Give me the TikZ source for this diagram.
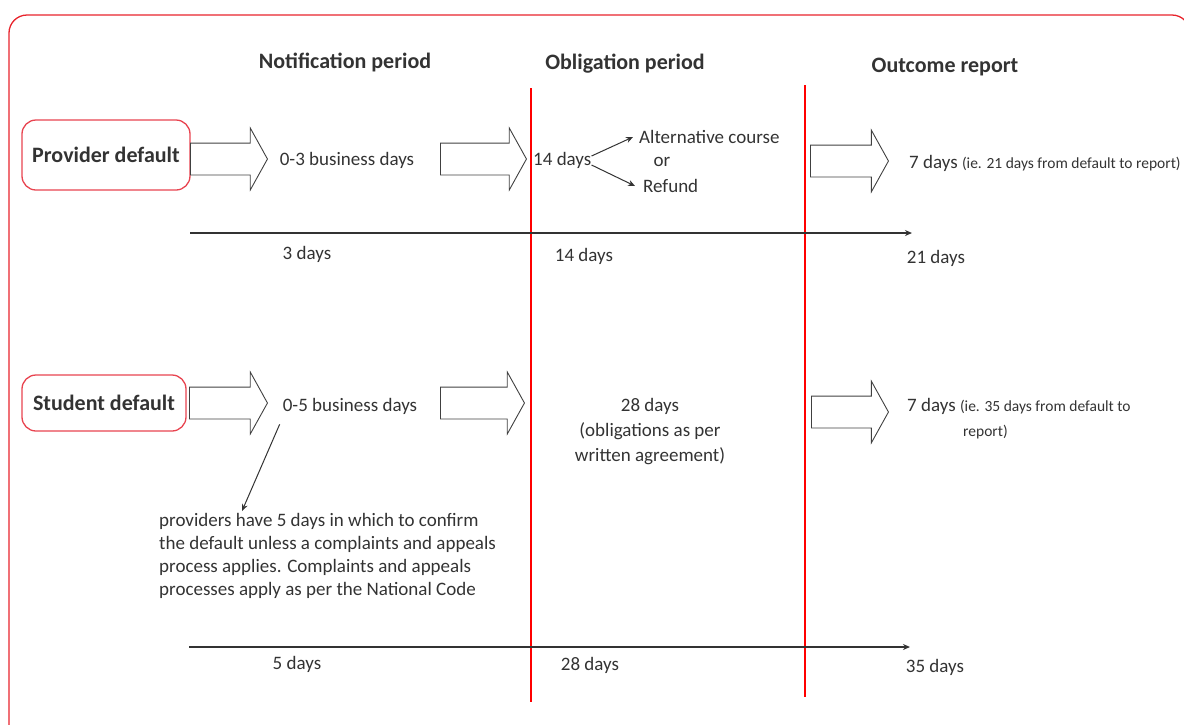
\documentclass[tikz,border=0pt]{standalone}
\usepackage{fontspec}
\setmainfont{Carlito}
\usetikzlibrary{positioning}
\usetikzlibrary{shapes.arrows,arrows.meta}
\definecolor{bordred}{HTML}{E8242C}
\definecolor{boxred}{HTML}{E84450}
\definecolor{inkgray}{HTML}{333333}

\begin{document}
\begin{tikzpicture}[x=1pt, y=-1pt, inner sep=0pt, text=inkgray, >={Stealth[length=7pt,width=6pt]},
    font=\fontsize{19}{23}\selectfont,
    defaultbox/.style={draw=boxred, line width=1.3pt, rounded corners=14pt,
    minimum width=168pt, minimum height=70pt, font=\fontsize{22}{26}\selectfont\bfseries},
    heading/.style={font=\fontsize{22}{26}\selectfont\bfseries},
    blockarrow/.style={single arrow, draw=black!75, line width=0.9pt, anchor=tail,
    inner xsep=0pt, inner ysep=15.5pt,
    minimum height=77pt, single arrow head extend=15pt,
    single arrow tip angle=122},
    period/.style={draw=red, line width=1.2pt},
    timeline/.style={draw=black!80, line width=1.2pt, ->},
    smallarrow/.style={draw=black!80, line width=1pt, ->},
    ]

    \useasboundingbox (0,0) rectangle (1184,724);
    \clip (0,0) rectangle (1184,724);
    \draw[draw=bordred, line width=1.3pt, rounded corners=18pt] (9,15) rectangle (1190,745);

    % headings and period lines
    \node[heading] (hnot) at (345,62) {Notification period};
    \node[heading] (hobl) at (625,64) {Obligation period};
    \node[heading] (hout) at (945,67) {Outcome report};

    \coordinate (obtop) at (531,88);
    \coordinate (obbot) at (531,702);
    \coordinate (outtop) at (805,85);
    \coordinate (outbot) at (805,697);
    \draw[period] (obtop) -- (obbot);
    \draw[period] (outtop) -- (outbot);

    % provider default
    \node[defaultbox] (prov) at (106,155) {Provider default};
    \node[blockarrow] (pa1) at (190,159) {};
    \node (pdays) at (347,160) {0-3 business days};
    \node[blockarrow, minimum height=86pt] (pa2) at (440,159) {};
    \node[anchor=west] (p14) at (533,160) {14 days};
    \node[anchor=west] (palt) at (639,137) {Alternative course};
    \node (por) at (662,162) {or};
    \node[anchor=west] (pref) at (643,186) {Refund};
    \draw[smallarrow] ([yshift=4pt]p14.east) -- ([xshift=-6pt]palt.west);
    \draw[smallarrow] ([yshift=-5pt]p14.east) -- ([xshift=-8pt]pref.west);
    \node[blockarrow, minimum height=78pt] (pa3) at (810,161) {};
    \node[anchor=west] (pout) at (909,163) {7 days {\fontsize{15.5}{19}\selectfont (ie. 21 days from default to report)}};

    \coordinate (pt0) at (190,233);
    \coordinate (pt1) at (912,233);
    \draw[timeline] (pt0) -- (pt1);
    \node (p3d) at (307,254) {3 days};
    \node (p14d) at (584,256) {14 days};
    \node (p21d) at (936,258) {21 days};

    % student default
    \node[defaultbox, minimum width=164pt, minimum height=56pt] (stud) at (104,403) {Student default};
    \node[blockarrow, minimum height=78pt] (sa1) at (189,403) {};
    \node (sdays) at (350,406) {0-5 business days};
    \node[blockarrow, minimum height=84pt] (sa2) at (440,403) {};
    \node[align=center, font=\fontsize{19}{25}\selectfont] (sobl) at (650,432)
        {28 days\\(obligations as per\\written agreement)};
    \node[blockarrow, minimum height=77pt] (sa3) at (811,412) {};
    \node[anchor=north west, align=left] (sout) at (907,398)
        {7 days {\fontsize{15.5}{19}\selectfont (ie. 35 days from default to}\\[2pt]
        \hspace*{56pt}{\fontsize{15.5}{19}\selectfont report)}};

    \node[anchor=north west, align=left] (snote) at (159,513)
        {providers have 5 days in which to confirm\\
        the default unless a complaints and appeals\\
        process applies. Complaints and appeals\\
        processes apply as per the National Code};
    \draw[smallarrow] ([shift={(-3,10)}]sdays.south west) -- ([shift={(83,-2)}]snote.north west);

    \coordinate (st0) at (189,647);
    \coordinate (st1) at (910,647);
    \draw[timeline] (st0) -- (st1);
    \node (s5d) at (297,664) {5 days};
    \node (s28d) at (590,665) {28 days};
    \node (s35d) at (935,667) {35 days};
\end{tikzpicture}
\end{document}
